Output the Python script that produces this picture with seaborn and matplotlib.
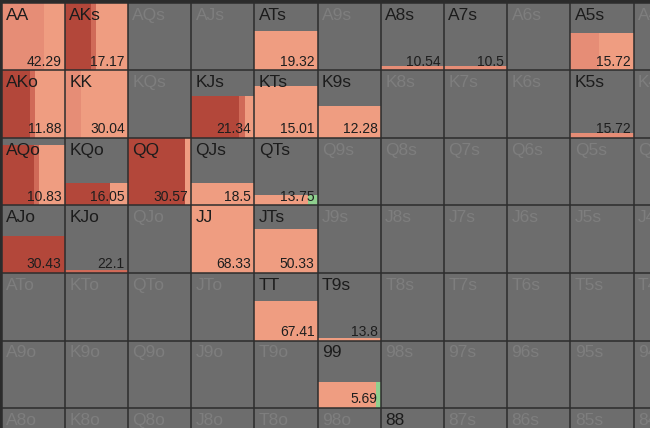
import numpy as np
import pandas as pd
import matplotlib
matplotlib.use("Agg")
import matplotlib.pyplot as plt
import seaborn as sns

# rangos de la matriz de manos
ranks = list("AKQJT98765432")

# manos activas y sus datos
hands = ["AA", "AKs", "ATs", "A8s", "A7s", "A5s",
         "AKo", "KK", "KJs", "KTs", "K9s", "K5s",
         "AQo", "KQo", "QQ", "QJs", "QTs",
         "AJo", "KJo", "JJ", "JTs",
         "TT", "T9s", "99"]
fill_height = [1.0, 1.0, 0.58, 0.07, 0.07, 0.56,
               1.0, 1.0, 0.62, 0.77, 0.47, 0.07,
               0.9, 0.34, 1.0, 0.34, 0.15,
               0.55, 0.05, 1.0, 0.65,
               0.59, 0.03, 0.39]
ev = [42.29, 17.17, 19.32, 10.54, 10.5, 15.72,
      11.88, 30.04, 21.34, 15.01, 12.28, 15.72,
      10.83, 16.05, 30.57, 18.5, 13.75,
      30.43, 22.1, 68.33, 50.33,
      67.41, 13.8, 5.69]
# reparto horizontal por acción (fracción del ancho)
dark = [0, 0.41, 0, 0, 0, 0,
        0.45, 0, 0.76, 0, 0, 0,
        0.52, 0.72, 0.9, 0, 0,
        1.0, 0, 0, 0,
        0, 0, 0]
mid = [0, 0.08, 0, 0, 0, 0,
       0.08, 0, 0.1, 0, 0, 0,
       0.08, 0, 0, 0, 0,
       0, 1.0, 0, 0,
       0, 0, 0]
salmon = [0.68, 0, 0, 1.0, 1.0, 0.45,
          0, 0.25, 0, 0, 0, 1.0,
          0, 0, 0, 0, 0,
          0, 0, 0, 0,
          0, 0, 0]
light = [0.32, 0.51, 1.0, 0, 0, 0.55,
         0.47, 0.75, 0.14, 1.0, 1.0, 0,
         0.4, 0.28, 0.1, 1.0, 0.85,
         0, 0, 1.0, 1.0,
         1.0, 1.0, 0.93]
green = [0, 0, 0, 0, 0, 0,
         0, 0, 0, 0, 0, 0,
         0, 0, 0, 0, 0.15,
         0, 0, 0, 0,
         0, 0, 0.07]
active_extra = ["88"]

action_colors = ["#b3473a", "#d06a58", "#e68d76", "#ef9d81", "#8fd08f"]

def hand_name(i, j):
    if i == j:
        return ranks[i] * 2
    if j > i:
        return ranks[i] + ranks[j] + "s"
    return ranks[j] + ranks[i] + "o"

n = len(ranks)
pos = {hand_name(i, j): (i, j) for i in range(n) for j in range(n)}

sns.set_theme(style="white")
plt.rcParams["font.family"] = ["Liberation Sans", "DejaVu Sans"]

fig = plt.figure(figsize=(6.5, 4.28), dpi=100, facecolor="#2b2b2b")
ax = fig.add_axes([0, 0, 1, 1])

# fondo gris de la matriz
base = pd.DataFrame(np.zeros((n, n)))
sns.heatmap(base, ax=ax, cmap=matplotlib.colors.ListedColormap(["#6d6d6d"]),
            cbar=False, xticklabels=False, yticklabels=False)

# barras por acción
for k, h in enumerate(hands):
    i, j = pos[h]
    left = j
    for w, c in zip([dark[k], mid[k], salmon[k], light[k], green[k]], action_colors):
        if w > 0:
            ax.bar(left, fill_height[k], width=w, bottom=i + 1 - fill_height[k],
                   align="edge", color=c, linewidth=0, zorder=2)
            left += w
    ax.text(j + 0.95, i + 0.93, f"{ev[k]:g}", ha="right", va="baseline",
            fontsize=10, color="#1e1e1e", zorder=4)

# rejilla
for t in range(n + 1):
    ax.axvline(t, color="#2d2d2d", lw=1.1, zorder=3)
    ax.axhline(t, color="#2d2d2d", lw=1.1, zorder=3)

# etiquetas de manos (solo la zona visible)
active = set(hands) | set(active_extra)
for name, (i, j) in pos.items():
    if i > 6 or j > 10:
        continue
    col = "#1c1c1c" if name in active else "#7e7e7e"
    ax.text(j + 0.07, i + 0.07, name, ha="left", va="top",
            fontsize=12.5, color=col, zorder=4, clip_on=True)

ax.set_xlim(-0.024, 10.26)
ax.set_ylim(6.296, -0.044)
ax.axis("off")

fig.savefig("out.png", dpi=100, facecolor=fig.get_facecolor())
